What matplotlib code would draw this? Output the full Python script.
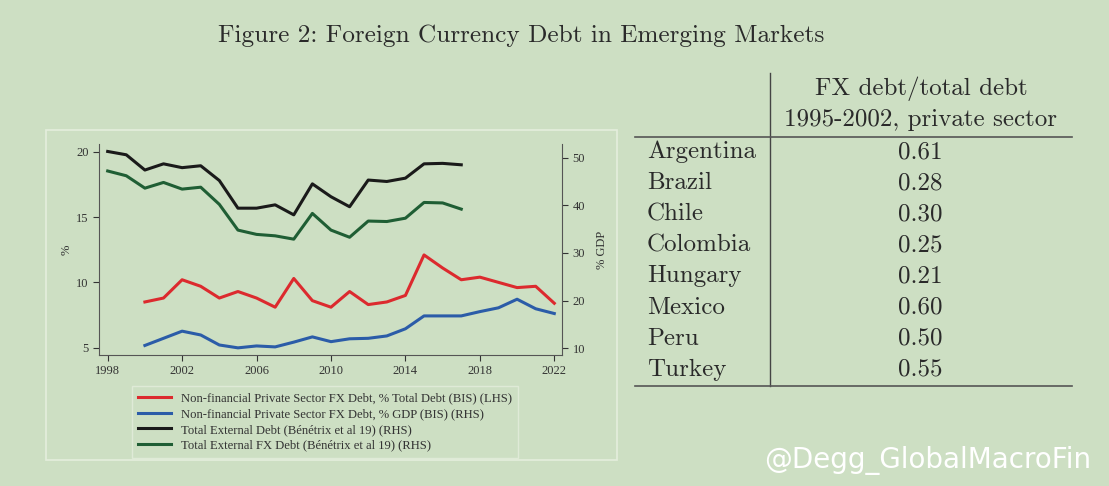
import numpy as np
import matplotlib.pyplot as plt
from matplotlib.patches import Rectangle
from matplotlib.lines import Line2D

# data
years_bis = list(range(2000, 2023))
red_fx_total = [8.5, 8.8, 10.2, 9.7, 8.8, 9.3, 8.8, 8.1, 10.3, 8.6, 8.1, 9.3, 8.3, 8.5, 9.0,
                12.1, 11.1, 10.2, 10.4, 10.0, 9.6, 9.7, 8.4]
blue_fx_gdp = [10.6, 12.1, 13.6, 12.8, 10.7, 10.1, 10.5, 10.3, 11.3, 12.4, 11.4, 12.0, 12.1,
               12.6, 14.1, 16.8, 16.8, 16.8, 17.7, 18.5, 20.3, 18.3, 17.3]
years_ben = list(range(1998, 2018))
black_ext = [51.3, 50.6, 47.4, 48.7, 47.9, 48.3, 45.2, 39.4, 39.4, 40.1, 38.0, 44.5, 41.8,
             39.7, 45.3, 45.0, 45.7, 48.7, 48.8, 48.5]
green_ext_fx = [47.2, 46.2, 43.6, 44.8, 43.4, 43.8, 40.2, 34.8, 33.9, 33.6, 32.9, 38.3, 34.8,
                33.3, 36.7, 36.6, 37.3, 40.6, 40.5, 39.2]

labels = ["Non-financial Private Sector FX Debt, % Total Debt (BIS) (LHS)",
          "Non-financial Private Sector FX Debt, % GDP (BIS) (RHS)",
          "Total External Debt (Bénétrix et al 19) (RHS)",
          "Total External FX Debt (Bénétrix et al 19) (RHS)"]

countries = ["Argentina", "Brazil", "Chile", "Colombia", "Hungary", "Mexico", "Peru", "Turkey"]
fx_share = ["0.61", "0.28", "0.30", "0.25", "0.21", "0.60", "0.50", "0.55"]

bg = "#cddfc3"
c_red, c_blue, c_black, c_green = "#dc2a2e", "#2b5ca8", "#1a1a1a", "#1f5e34"
ink = "#333333"

plt.rcParams['font.family'] = ['Liberation Serif', 'DejaVu Serif']

fig = plt.figure(figsize=(11.09, 4.86), dpi=100, facecolor=bg)

# title
fig.text(521/1109, 1 - 36/486, "Figure 2: Foreign Currency Debt in Emerging Markets",
         family=['cmr10', 'DejaVu Serif'], fontsize=18.2, color="#2a2a2a", ha='center', va='center')

# panel frame
fig.patches.append(Rectangle((46/1109, 1 - 460/486), (617-46)/1109, (460-130)/486,
                             transform=fig.transFigure, fill=False, edgecolor="#e4eedd", lw=1.2))

ax = fig.add_axes([99.3/1109, 1 - 355/486, (562.3-99.3)/1109, (355-144.3)/486])
ax.set_facecolor(bg)
ax2 = ax.twinx()

ax.plot(years_bis, red_fx_total, color=c_red, lw=2.2)
ax2.plot(years_bis, blue_fx_gdp, color=c_blue, lw=2.2)
ax2.plot(years_ben, black_ext, color=c_black, lw=2.2)
ax2.plot(years_ben, green_ext_fx, color=c_green, lw=2.2)

ax.set_xlim(1997.55, 2022.43)
ax.set_ylim(4.44, 20.57)
ax2.set_ylim(8.6, 52.8)
ax.set_xticks(range(1998, 2023, 4))
ax.set_yticks([5, 10, 15, 20])
ax2.set_yticks([10, 20, 30, 40, 50])
ax.set_ylabel("%", color=ink, fontsize=9, labelpad=3)
ax2.set_ylabel("% GDP", color=ink, fontsize=9, labelpad=8)

for a in (ax, ax2):
    a.spines['top'].set_visible(False)
    for s in a.spines.values():
        s.set_color("#555555")
        s.set_linewidth(0.8)
    a.tick_params(colors=ink, labelsize=9, length=4, width=0.8, labelcolor=ink)
ax.spines['right'].set_visible(False)
ax2.spines['left'].set_visible(False)
ax2.spines['bottom'].set_visible(False)

handles = [Line2D([], [], color=c, lw=2.2) for c in (c_red, c_blue, c_black, c_green)]
leg = fig.legend(handles, labels, loc='center', bbox_to_anchor=(325/1109, 1 - 422/486),
                 fontsize=9.1, frameon=True, fancybox=False, handlelength=2.6,
                 labelspacing=0.3, borderpad=0.5)
leg.get_frame().set_facecolor(bg)
leg.get_frame().set_edgecolor("#e4eedd")
leg.get_frame().set_linewidth(1.0)
for t in leg.get_texts():
    t.set_color(ink)

# table on the right
tab_font = ['cmr10', 'DejaVu Serif']
tc = "#2a2a2a"
fs = 18
fig.add_artist(Line2D([770/1109, 770/1109], [1 - 73/486, 1 - 386/486], color="#444444", lw=1.0))
fig.add_artist(Line2D([635/1109, 1072/1109], [1 - 137/486, 1 - 137/486], color="#555555", lw=1.2))
fig.add_artist(Line2D([635/1109, 1072/1109], [1 - 386/486, 1 - 386/486], color="#555555", lw=1.2))
fig.text(921/1109, 1 - 89/486, "FX debt/total debt", family=tab_font, fontsize=fs,
         color=tc, ha='center', va='center')
fig.text(921/1109, 1 - 120/486, "1995-2002, private sector", family=tab_font, fontsize=fs,
         color=tc, ha='center', va='center')
for i, (c, v) in enumerate(zip(countries, fx_share)):
    y = 1 - (152 + i*31.1)/486
    fig.text(647/1109, y, c, family=tab_font, fontsize=fs, color=tc, ha='left', va='center')
    fig.text(920/1109, y, v, family=tab_font, fontsize=fs, color=tc, ha='center', va='center')

# watermark
fig.text(764/1109, 1 - 460/486, "@Degg_GlobalMacroFin", family=['DejaVu Sans'], fontsize=20,
         color="white", ha='left', va='center')

fig.savefig("out.png", dpi=100, facecolor=bg)
